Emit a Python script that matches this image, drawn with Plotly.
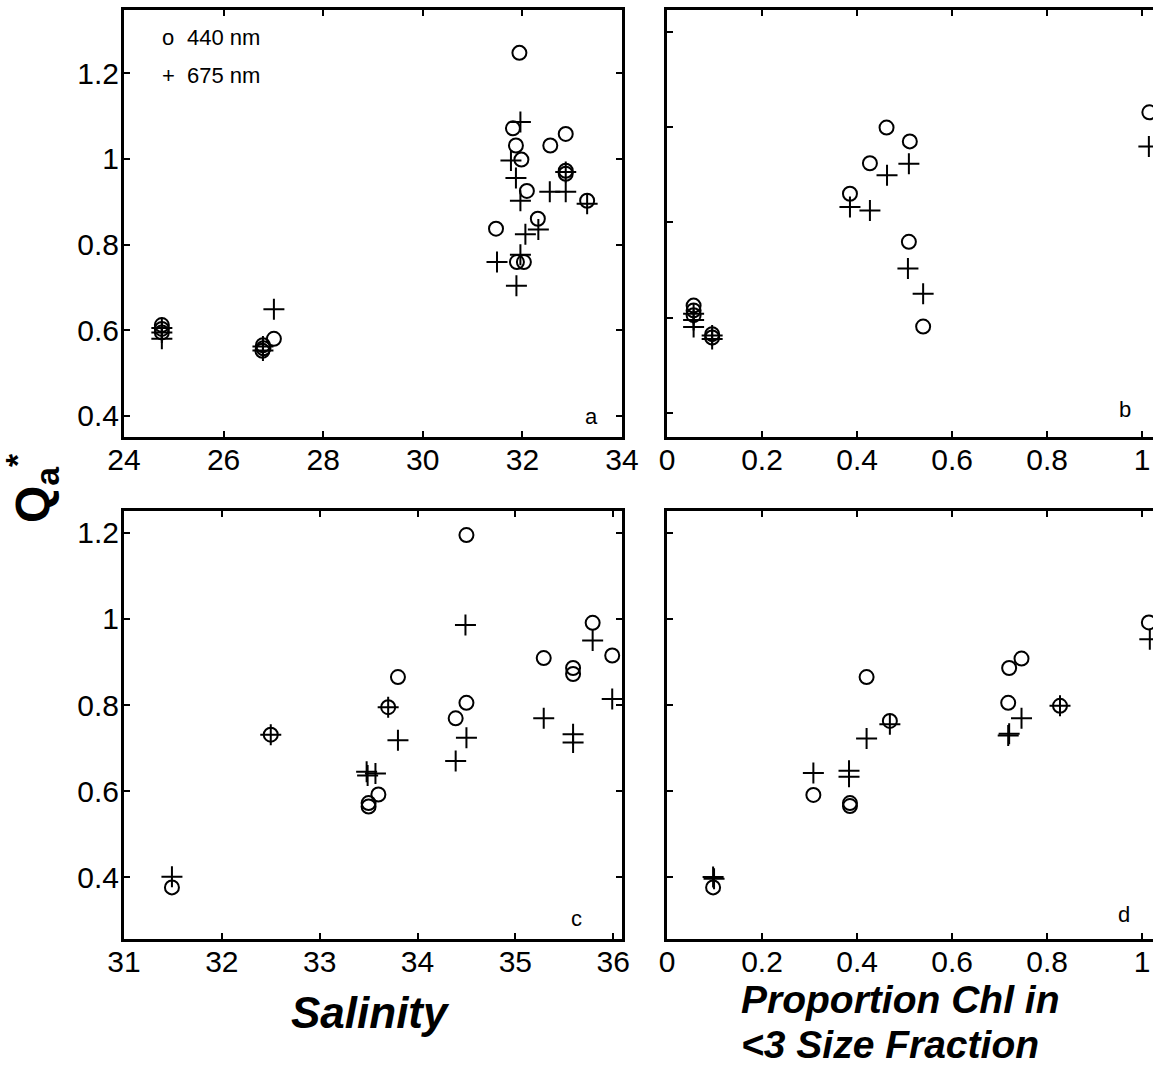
import plotly.graph_objects as go

# ---------------- data ----------------
# panel a: salinity (top)
sal_a_440 = [24.76, 24.76, 24.76, 26.79, 26.80, 26.78, 27.01, 31.47, 31.81, 31.87, 31.89,
             31.94, 31.98, 32.03, 32.09, 32.31, 32.56, 32.87, 32.87, 32.87, 33.30]
qa_a_440 = [0.612, 0.603, 0.595, 0.565, 0.558, 0.552, 0.580, 0.837, 1.071, 1.031, 0.759,
            1.247, 0.998, 0.759, 0.925, 0.860, 1.031, 1.058, 0.972, 0.965, 0.902]
sal_a_675 = [24.76, 24.76, 24.76, 26.79, 26.79, 27.01, 31.49, 31.77, 31.87, 31.88, 31.96,
             31.96, 31.96, 32.06, 32.32, 32.55, 32.87, 32.87, 33.30]
qa_a_675 = [0.605, 0.595, 0.580, 0.562, 0.553, 0.649, 0.759, 0.996, 0.955, 0.704, 1.086,
            0.902, 0.776, 0.824, 0.835, 0.923, 0.923, 0.969, 0.895]

# panel b: proportion chl <3 (top)
prop_b_440 = [0.056, 0.056, 0.056, 0.095, 0.095, 0.385, 0.427, 0.462, 0.509, 0.511, 0.539, 1.015]
qa_b_440 = [0.625, 0.615, 0.605, 0.565, 0.558, 0.860, 0.924, 0.999, 0.759, 0.970, 0.581, 1.031]
prop_b_675 = [0.056, 0.056, 0.056, 0.095, 0.095, 0.385, 0.427, 0.463, 0.507, 0.509, 0.539, 1.014]
qa_b_675 = [0.608, 0.595, 0.580, 0.562, 0.555, 0.832, 0.825, 0.899, 0.703, 0.923, 0.650, 0.959]

# panel c: salinity (bottom)
sal_c_440 = [31.49, 32.50, 33.50, 33.50, 33.60, 33.70, 33.80, 34.39, 34.50, 34.50, 35.29,
             35.59, 35.59, 35.79, 35.99]
qa_c_440 = [0.376, 0.731, 0.564, 0.572, 0.592, 0.795, 0.865, 0.769, 1.195, 0.805, 0.909,
            0.886, 0.872, 0.991, 0.915]
sal_c_675 = [31.49, 32.50, 33.48, 33.49, 33.57, 33.70, 33.80, 34.39, 34.49, 34.50, 35.29,
             35.59, 35.59, 35.79, 35.99]
qa_c_675 = [0.401, 0.731, 0.645, 0.636, 0.641, 0.795, 0.718, 0.670, 0.986, 0.724, 0.769,
            0.732, 0.713, 0.950, 0.814]

# panel d: proportion chl <3 (bottom)
prop_d_440 = [0.097, 0.308, 0.385, 0.385, 0.420, 0.469, 0.718, 0.720, 0.746, 0.827, 1.014]
qa_d_440 = [0.376, 0.591, 0.565, 0.572, 0.865, 0.763, 0.805, 0.886, 0.908, 0.798, 0.992]
prop_d_675 = [0.097, 0.099, 0.308, 0.383, 0.383, 0.420, 0.469, 0.718, 0.720, 0.746, 0.827, 1.016]
qa_d_675 = [0.400, 0.396, 0.642, 0.647, 0.633, 0.722, 0.755, 0.729, 0.733, 0.769, 0.798, 0.953]

sal_a_ticks = [24, 26, 28, 30, 32, 34]
sal_c_ticks = [31, 32, 33, 34, 35, 36]
prop_ticks = [0, 0.2, 0.4, 0.6, 0.8, 1]
prop_tick_text = ["0", "0.2", "0.4", "0.6", "0.8", "1"]
qa_ticks = [0.4, 0.6, 0.8, 1.0, 1.2]
qa_tick_text = ["0.4", "0.6", "0.8", "1", "1.2"]
panel_letters = ["a", "b", "c", "d"]
legend_labels = ["440 nm", "675 nm"]

# ---------------- figure ----------------
W, H = 1153, 1068
FONT = "Liberation Sans, Arial, sans-serif"

def px(x):
    return x / W

def py(y):
    return 1 - y / H

fig = go.Figure()

circ = dict(symbol="circle-open", size=14, color="black", line=dict(width=2, color="black"))
plus = dict(symbol="cross-thin-open", size=15, color="black", line=dict(width=2, color="black"))

panels = [
    ("x", "y", sal_a_440, qa_a_440, sal_a_675, qa_a_675),
    ("x2", "y2", prop_b_440, qa_b_440, prop_b_675, qa_b_675),
    ("x3", "y3", sal_c_440, qa_c_440, sal_c_675, qa_c_675),
    ("x4", "y4", prop_d_440, qa_d_440, prop_d_675, qa_d_675),
]
for i, (xa, ya, x1, y1, x2, y2) in enumerate(panels):
    fig.add_trace(go.Scatter(x=x1, y=y1, mode="markers", marker=circ, xaxis=xa, yaxis=ya,
                             name=legend_labels[0], showlegend=False))
    fig.add_trace(go.Scatter(x=x2, y=y2, mode="markers", marker=plus, xaxis=xa, yaxis=ya,
                             name=legend_labels[1], showlegend=False))

left_dom = [px(124), px(622)]
right_dom = [px(667), 1.0]
top_dom = [py(437), py(10)]
bot_dom = [py(939), py(511)]

common = dict(showline=True, linecolor="black", linewidth=3, ticks="inside", ticklen=6,
              tickwidth=2, tickcolor="black", showgrid=False, zeroline=False, automargin=False,
              tickfont=dict(family=FONT, size=30, color="black"))
XSO = -6
YSO = -4

fig.update_layout(
    width=W, height=H, margin=dict(l=0, r=0, t=0, b=0, autoexpand=False),
    paper_bgcolor="white", plot_bgcolor="white", showlegend=False,
    xaxis=dict(domain=left_dom, range=[24, 34], tickvals=sal_a_ticks, anchor="y",
               mirror="ticks", ticklabelstandoff=XSO, **common),
    yaxis=dict(domain=top_dom, range=[0.351, 1.347], tickvals=qa_ticks, ticktext=qa_tick_text,
               anchor="x", mirror="ticks", ticklabelstandoff=YSO, **common),
    xaxis2=dict(domain=right_dom, range=[0, 1.0227], tickvals=prop_ticks, ticktext=prop_tick_text,
                anchor="y2", mirror="ticks", ticklabelstandoff=XSO, **common),
    yaxis2=dict(domain=top_dom, range=[0.349, 1.246], tickvals=qa_ticks, showticklabels=False,
                anchor="x2", mirror=False, **common),
    xaxis3=dict(domain=left_dom, range=[31, 36.09], tickvals=sal_c_ticks, anchor="y3",
                mirror="ticks", ticklabelstandoff=XSO, **common),
    yaxis3=dict(domain=bot_dom, range=[0.256, 1.251], tickvals=qa_ticks, ticktext=qa_tick_text,
                anchor="x3", mirror="ticks", ticklabelstandoff=YSO, **common),
    xaxis4=dict(domain=right_dom, range=[0, 1.0227], tickvals=prop_ticks, ticktext=prop_tick_text,
                anchor="y4", mirror="ticks", ticklabelstandoff=XSO, **common),
    yaxis4=dict(domain=bot_dom, range=[0.256, 1.251], tickvals=qa_ticks, showticklabels=False,
                anchor="x4", mirror=False, **common),
)

ann = []
# legend (inside panel a)
leg_font = dict(family=FONT, size=22, color="black")
ann.append(dict(x=px(160), y=py(37), text="o", xanchor="left", yanchor="middle", font=leg_font))
ann.append(dict(x=px(185), y=py(38), text=legend_labels[0], xanchor="left", yanchor="middle", font=leg_font))
ann.append(dict(x=px(160), y=py(76), text="+", xanchor="left", yanchor="middle", font=leg_font))
ann.append(dict(x=px(185), y=py(76), text=legend_labels[1], xanchor="left", yanchor="middle", font=leg_font))

# panel letters
let_font = dict(family=FONT, size=22, color="black")
for t, (lx, ly) in zip(panel_letters, [(591, 416), (1125, 410), (576, 918), (1124, 914)]):
    ann.append(dict(x=px(lx), y=py(ly), text=t, xanchor="center", yanchor="middle", font=let_font))

# axis titles
ann.append(dict(x=px(370), y=py(1012), text="<b><i>Salinity</i></b>", xanchor="center",
                yanchor="middle", font=dict(family=FONT, size=44, color="black")))
ann.append(dict(x=px(739), y=py(999), text="<b><i>Proportion Chl in</i></b>", xanchor="left",
                yanchor="middle", font=dict(family=FONT, size=39, color="black")))
ann.append(dict(x=px(739), y=py(1044), text="<b><i>&lt;3 Size Fraction</i></b>", xanchor="left",
                yanchor="middle", font=dict(family=FONT, size=39, color="black")))
ann.append(dict(x=px(32), y=py(488), text="<b>Q<sub>a</sub><sup>*</sup></b>", textangle=-90,
                xanchor="center", yanchor="middle", font=dict(family=FONT, size=48, color="black")))

for a in ann:
    a.update(xref="paper", yref="paper", showarrow=False)
fig.update_layout(annotations=ann)

fig.write_html("out.html")
